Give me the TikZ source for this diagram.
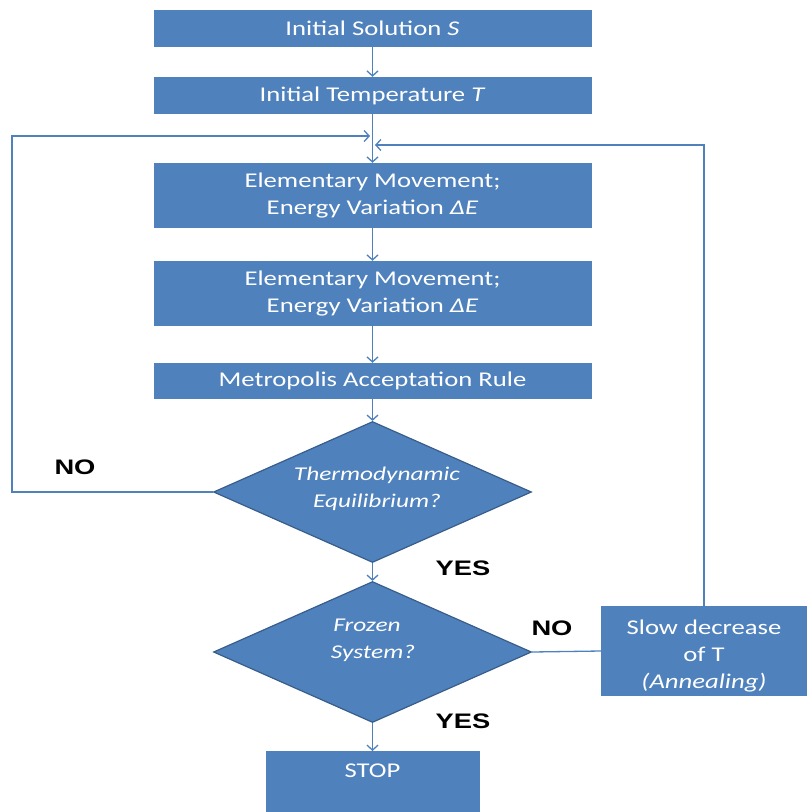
\documentclass[tikz,border=0pt]{standalone}
\usepackage{fontspec}
\setmainfont{Carlito}[FakeStretch=1.27]
\newfontfamily\qfont{Carlito}[FakeStretch=1.3]
\newfontfamily\lblfont{Liberation Sans}[FakeStretch=1.3]
\usetikzlibrary{arrows.meta,shapes.geometric}
\definecolor{boxblue}{HTML}{4F81BD}
\definecolor{edgeblue}{HTML}{385D8A}

\begin{document}
\begin{tikzpicture}[x=1pt,y=-1pt,
  stepbox/.style={fill=boxblue, text=white, inner sep=0pt, minimum width=438pt,
    align=center, font=\fontsize{21}{27}\selectfont},
  decision/.style={diamond, fill=boxblue, draw=edgeblue, line width=1.2pt,
    inner sep=0pt, aspect=2.25, minimum width=318pt, minimum height=141pt},
  qtext/.style={text=white, align=center, inner sep=0pt,
    font=\qfont\itshape\fontsize{19.5}{27}\selectfont},
  flow/.style={draw=boxblue, line width=1.3pt},
  arr/.style={flow, -{Straight Barb[length=5pt,width=11pt]}},
  answer/.style={inner sep=0pt, font=\lblfont\bfseries\fontsize{21}{24}\selectfont}
]
\useasboundingbox (0,0) rectangle (808,812);

% process steps
\node[stepbox, minimum height=37pt] (init) at (372.5,28.5) {Initial Solution \textit{S}};
\node[stepbox, minimum height=37pt] (temp) at (372.5,95.5) {Initial Temperature \textit{T}};
\node[stepbox, minimum height=65pt] (move1) at (372.5,195.5) {Elementary Movement;\\Energy Variation \textit{ΔE}};
\node[stepbox, minimum height=65pt] (move2) at (372.5,293.5) {Elementary Movement;\\Energy Variation \textit{ΔE}};
\node[stepbox, minimum height=36pt] (rule) at (372.5,381) {Metropolis Acceptation Rule};

% decisions
\node[decision] (equi) at (372.5,492) {};
\node[qtext] (equiq) at (377,489) {Thermodynamic\\Equilibrium?};
\node[decision] (frozen) at (372.5,652) {};
\node[qtext] (frozenq) at (373,640) {Frozen\hspace*{12pt}\\System?};

% cooling step and end
\node[stepbox, minimum width=206pt, minimum height=90pt] (slow) at (704,651)
  {\rule{0pt}{24pt}Slow decrease\\of T\\\textit{(Annealing)}};
\node[fill=boxblue, text=white, inner sep=0pt, minimum width=214pt,
  text height=26pt, text depth=35pt, anchor=north,
  font=\fontsize{21}{27}\selectfont] (stop) at (372.5,751) {STOP};

% branch labels
\node[answer] (no1) at (75,467) {NO};
\node[answer] (yes1) at (463,568) {YES};
\node[answer] (no2) at (552,628) {NO};
\node[answer] (yes2) at (463,721) {YES};

% main flow
\draw[arr] (init) -- (temp);
\draw[arr] (temp) -- (move1);
\draw[arr] (move1) -- (move2);
\draw[arr] (move2) -- (rule);
\draw[arr] (rule) -- (equi);
\draw[arr] (equi) -- (frozen);
\draw[arr] (frozen) -- (stop);

% feedback loops
\coordinate (leftrail) at (12,0);
\coordinate (joinL) at (370,136);
\coordinate (joinR) at (375,145);
\draw[arr] (equi.west) -- (equi.west -| leftrail) |- (joinL);
\draw[flow] (frozen.east) -- (slow.west);
\draw[arr] (slow.north) |- (joinR);
\end{tikzpicture}
\end{document}
